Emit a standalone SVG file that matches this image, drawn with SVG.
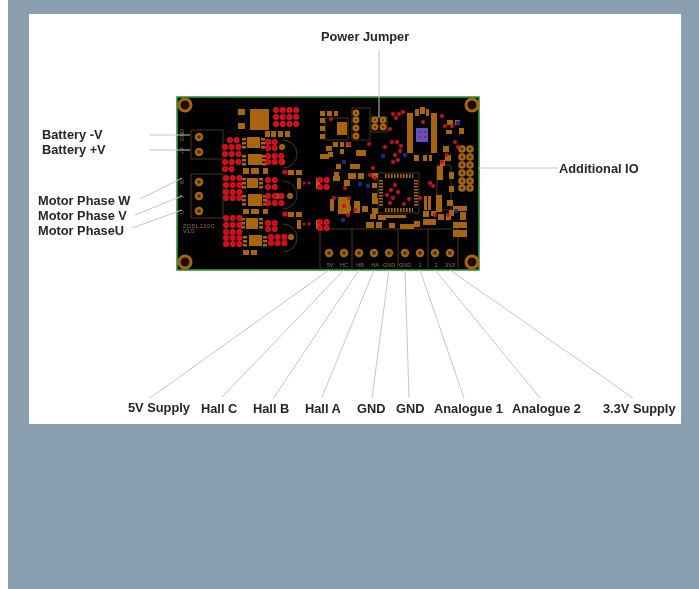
<svg xmlns="http://www.w3.org/2000/svg" width="699" height="589" viewBox="0 0 699 589">
<style>
.lb{font:bold 12.8px "Liberation Sans",Arial,sans-serif;fill:#262626}
.cn{stroke:#c6c6c6;stroke-width:1;fill:none}
.pad{fill:#a8650f}
.pin{fill:none;stroke:#a8650f;stroke-width:4;stroke-dasharray:2.4 1.6}
.sk{fill:none;stroke:#4f4618;stroke-width:.8}
.ring{fill:#3a2a08;stroke:#a8650f;stroke-width:2.4}
.vo{fill:none;stroke:#dc101c;stroke-width:6;stroke-linecap:round;stroke-dasharray:0 6.7}
.vi{fill:none;stroke:#8c0a12;stroke-width:1.6;stroke-linecap:round;stroke-dasharray:0 6.7}
.red{fill:#cc101c}
.blu{fill:#1a2a90}
.si{font:5.5px "Liberation Sans",Arial,sans-serif;fill:#94683a}
</style>
<defs>
<filter id="b" x="-2%" y="-2%" width="104%" height="104%"><feGaussianBlur stdDeviation="0.7"/></filter>
<filter id="t" x="-5%" y="-20%" width="110%" height="140%"><feGaussianBlur stdDeviation="0.42"/></filter>
<path id="via" d="M230 140h7M225 147h14M225 154h14M225 162h14M225 169h7M226 178h14M226 185h14M226 192h14M226 198h14M226 218h14M226 225h14M226 232h14M226 238h14M226 244h14M268 142h7M268 148h7M268 156h14M268 162h14M268 180h7M268 187h7M268 196h14M268 203h14M268 223h7M268 229h7M271 237h14M271 243h14M276 110h21M276 117h21M276 124h21M320 180h7M320 187h7M320 222h7M320 228h7"/>
</defs>
<rect width="699" height="589" fill="#fff"/>
<rect x="8" width="691" height="589" fill="#8a9fb0"/>
<rect x="29" y="14" width="652" height="410" fill="#fff"/>
<g id="board" filter="url(#b)">
<rect x="177" y="97" width="302" height="173" fill="#050505" stroke="#2e9a35" stroke-width="1.6"/>
<path class="sk" d="M191 130h32v29h-32zM191 174h32v44h-32zM320 229h138v39M320 229v39M352 229v39M398 229v39M428 229v39M325 118h23v22h-23zM352 108h18v32h-18zM371 117h16v15h-16zM378 173h41v40h-41zM437 165h14v45h-14zM283 140a14 14 0 0 1 0 28M283 181a14 14 0 0 1 0 28M283 224a14 14 0 0 1 0 28"/>
<path class="pad" d="M250 109h19v21h-19zM238 109h7v6h-7zM238 123h7v6h-7zM265 131h5v6h-5zM271 131h5v6h-5zM278 131h5v6h-5zM285 131h5v6h-5zM247 137h13v11h-13zM248 154h14v11h-14zM247 178h11v10h-11zM248 194h14v12h-14zM246 218h12v11h-12zM249 235h13v11h-13zM243 168h6v6h-6zM251 168h8v6h-8zM263 168h5v6h-5zM243 209h6v5h-6zM251 209h8v5h-8zM263 209h5v5h-5zM243 250h6v5h-6zM251 250h6v5h-6zM288 170h6v5h-6zM296 170h6v5h-6zM288 212h6v5h-6zM296 212h6v5h-6zM297 178h4v11h-4zM316 178h4v11h-4zM297 220h4v9h-4zM316 220h4v9h-4z"/>
<path class="pin" d="M244 138v12M263 138v12M244 155v12M264 155v12M244 178v12M261 178v12M244 195v12M265 195v12M243 218v12M261 218v12M245 236v12M265 236v12"/>
<path class="pad" d="M320 111h5v5h-5zM327 111h5v5h-5zM334 111h4v5h-4zM320 118h5v5h-5zM320 126h5v5h-5zM320 134h5v5h-5zM320 154h5v5h-5zM325 154h4v5h-4zM337 122h10v13h-10zM333 142h5v5h-5zM340 142h4v5h-4zM346 142h5v5h-5zM326 146h6v5h-6zM328 152h5v5h-5zM340 149h4v5h-4zM356 150h10v6h-10zM336 164h5v5h-5zM350 164h10v5h-10zM334 172h5v5h-5zM348 173h8v6h-8zM358 173h6v6h-6zM333 176h7v5h-7zM344 180h6v6h-6zM372 173h6v5h-6zM372 183h5v5h-5zM372 193h5v5h-5zM345 206h6v5h-6zM330 199h4v12h-4zM338 197h12v17h-12zM354 201h6v12h-6zM372 198h6v6h-6zM372 208h6v6h-6zM362 206h6v6h-6zM370 214h6v5h-6zM378 215h8v5h-8zM366 222h8v6h-8zM376 222h6v6h-6zM389 223h6v5h-6zM400 224h14v5h-14zM414 221h6v6h-6zM384 215h22v3h-22z"/>
<path class="pad" d="M407 113h6v40h-6zM431 113h6v40h-6zM415 109h4v7h-4zM420 107h5v7h-5zM426 109h3v7h-3zM414 155h5v6h-5zM423 155h4v6h-4zM429 155h3v6h-3zM447 120h6v5h-6zM455 120h5v5h-5zM446 130h6v4h-6zM459 128h5v6h-5zM443 146h6v6h-6zM445 155h6v6h-6zM440 160h5v6h-5zM437 166h6v14h-6zM449 172h5v7h-5zM449 186h5v6h-5zM447 200h6v6h-6zM436 195h6v17h-6zM449 210h5v6h-5zM424 196h3v14h-3zM428 196h3v14h-3zM423 211h6v6h-6zM431 211h5v5h-5zM438 214h6v6h-6zM446 214h5v6h-5zM453 206h14v5h-14zM460 212h6v8h-6zM453 222h14v6h-14zM453 230h14v7h-14zM423 219h8v6h-8zM431 219h5v6h-5z"/>
<path fill="none" stroke="#a8650f" stroke-width="4" stroke-dasharray="1.6 1.4" d="M385 176h28M385 210h28M381 180v27M416 180v27"/>
<g class="ring"><circle cx="185" cy="105" r="6" fill="#1a1003" stroke-width="3"/><circle cx="185" cy="262" r="6" fill="#1a1003" stroke-width="3"/><circle cx="472" cy="105" r="6" fill="#1a1003" stroke-width="3"/><circle cx="472" cy="262" r="6" fill="#1a1003" stroke-width="3"/>
<circle cx="199" cy="137" r="3"/><circle cx="199" cy="152" r="3"/><circle cx="199" cy="182" r="3"/><circle cx="199" cy="196" r="3"/><circle cx="199" cy="211" r="3"/>
<circle cx="329" cy="253" r="3"/><circle cx="344" cy="253" r="3"/><circle cx="359" cy="253" r="3"/><circle cx="374" cy="253" r="3"/><circle cx="389" cy="253" r="3"/><circle cx="405" cy="253" r="3"/><circle cx="420" cy="253" r="3"/><circle cx="435" cy="253" r="3"/><circle cx="450" cy="253" r="3"/>
<circle cx="462" cy="149" r="2.6"/><circle cx="470" cy="149" r="2.6"/><circle cx="462" cy="157" r="2.6"/><circle cx="470" cy="157" r="2.6"/><circle cx="462" cy="165" r="2.6"/><circle cx="470" cy="165" r="2.6"/><circle cx="462" cy="173" r="2.6"/><circle cx="470" cy="173" r="2.6"/><circle cx="462" cy="181" r="2.6"/><circle cx="470" cy="181" r="2.6"/><circle cx="462" cy="188" r="2.6"/><circle cx="470" cy="188" r="2.6"/>
<circle cx="356" cy="113" r="2.2"/><circle cx="356" cy="120" r="2.2"/><circle cx="356" cy="128" r="2.2"/><circle cx="356" cy="136" r="2.2"/><circle cx="375" cy="120" r="2.2"/><circle cx="383" cy="120" r="2.2"/><circle cx="375" cy="127" r="2.2"/><circle cx="383" cy="127" r="2.2"/>
<circle cx="282" cy="147" r="1.8"/><circle cx="282" cy="162" r="1.8"/><circle cx="290" cy="196" r="1.8"/><circle cx="277" cy="196" r="1.8"/><circle cx="291" cy="237" r="1.8"/></g>
<use href="#via" class="vo"/><use href="#via" class="vi"/>
<rect x="416" y="128" width="12" height="14" fill="#5a55c4"/>
<path d="M419 131h2v2h-2zM424 131h2v2h-2zM419 136h2v2h-2zM424 136h2v2h-2z" fill="#d01020"/>
<g class="red"><circle cx="285" cy="172" r="2.6"/><circle cx="285" cy="214" r="2.6"/><circle cx="304" cy="183" r="1.5"/><circle cx="309" cy="183" r="1.5"/><circle cx="304" cy="224" r="1.5"/><circle cx="309" cy="224" r="1.5"/><circle cx="331" cy="119" r="2"/><circle cx="369" cy="144" r="2"/><circle cx="349" cy="144" r="2"/><circle cx="385" cy="147" r="2"/><circle cx="392" cy="142" r="2"/><circle cx="397" cy="142" r="2"/><circle cx="401" cy="146" r="2"/><circle cx="395" cy="155" r="2"/><circle cx="398" cy="160" r="2"/><circle cx="393" cy="162" r="2"/><circle cx="400" cy="151" r="2"/><circle cx="403" cy="112" r="2"/><circle cx="396" cy="118" r="2"/><circle cx="399" cy="114" r="2"/><circle cx="393" cy="114" r="2"/><circle cx="390" cy="129" r="2"/><circle cx="423" cy="122" r="2"/><circle cx="442" cy="116" r="2"/><circle cx="445" cy="126" r="2"/><circle cx="452" cy="126" r="2"/><circle cx="455" cy="142" r="2"/><circle cx="458" cy="147" r="2"/><circle cx="447" cy="155" r="2"/><circle cx="442" cy="162" r="2"/><circle cx="395" cy="185" r="2"/><circle cx="391" cy="190" r="2"/><circle cx="398" cy="192" r="2"/><circle cx="393" cy="198" r="2"/><circle cx="387" cy="195" r="2"/><circle cx="390" cy="203" r="2"/><circle cx="404" cy="204" r="2"/><circle cx="409" cy="199" r="2"/><circle cx="420" cy="198" r="2"/><circle cx="430" cy="183" r="2"/><circle cx="433" cy="186" r="2"/><circle cx="349" cy="198" r="2"/><circle cx="334" cy="198" r="2"/><circle cx="344" cy="206" r="2"/><circle cx="355" cy="210" r="2"/><circle cx="345" cy="188" r="2"/><circle cx="348" cy="215" r="2"/><circle cx="435" cy="215" r="2"/><circle cx="448" cy="215" r="2"/><circle cx="373" cy="168" r="2"/><circle cx="375" cy="178" r="2"/><circle cx="370" cy="175" r="2"/></g>
<g class="blu"><circle cx="344" cy="162" r="2.2"/><circle cx="383" cy="156" r="2.2"/><circle cx="405" cy="155" r="2.2"/><circle cx="360" cy="184" r="2.2"/><circle cx="368" cy="186" r="2.2"/><circle cx="458" cy="123" r="2.2"/><circle cx="456" cy="211" r="2.2"/><circle cx="343" cy="220" r="2.2"/></g>
<text class="si" transform="rotate(-90 184 135)" x="184" y="135" text-anchor="middle">GND</text>
<text class="si" transform="rotate(-90 184 151)" x="184" y="151" text-anchor="middle">+V</text>
<text class="si" transform="rotate(-90 184 182)" x="184" y="182" text-anchor="middle">W</text>
<text class="si" transform="rotate(-90 184 197)" x="184" y="197" text-anchor="middle">V</text>
<text class="si" transform="rotate(-90 184 212)" x="184" y="212" text-anchor="middle">U</text>
<text class="si" x="183" y="228" letter-spacing=".6">ZDDL220C</text>
<text class="si" x="183" y="233">V1.0</text>
<g class="si" text-anchor="middle"><text x="330" y="267">5V</text><text x="344" y="267">HC</text><text x="360" y="267">HB</text><text x="375" y="267">HA</text><text x="389" y="267">GND</text><text x="405" y="267">GND</text><text x="420" y="267">1</text><text x="436" y="267">2</text><text x="450" y="267">3V3</text></g>
</g>
<g id="connectors" class="cn" filter="url(#t)">
<path d="M379 50V118M150 135H190M150 150H190M140 199L182 178M135 215L182 196M132 228L182 210M478 168H558M150 398L329 270M222 397L344 270M273 399L359 270M322 397L374 270M372 398L389 270M409 398L405 270M464 398L420 270M540 398L435 270M633 398L450 270"/>
</g>
<g filter="url(#t)">
<g id="n-jumper"><text class="lb" x="321" y="41">Power Jumper</text></g>
<g id="n-batn"><text class="lb" x="42" y="139">Battery -V</text></g>
<g id="n-batp"><text class="lb" x="42" y="154">Battery +V</text></g>
<g id="n-w"><text class="lb" x="38" y="205">Motor Phase W</text></g>
<g id="n-v"><text class="lb" x="38" y="220">Motor Phase V</text></g>
<g id="n-u"><text class="lb" x="38" y="235">Motor PhaseU</text></g>
<g id="n-io"><text class="lb" x="559" y="173">Additional IO</text></g>
<g id="n-5v"><text class="lb" x="128" y="412">5V Supply</text></g>
<g id="n-hc"><text class="lb" x="201" y="413">Hall C</text></g>
<g id="n-hb"><text class="lb" x="253" y="413">Hall B</text></g>
<g id="n-ha"><text class="lb" x="305" y="413">Hall A</text></g>
<g id="n-g1"><text class="lb" x="357" y="413">GND</text></g>
<g id="n-g2"><text class="lb" x="396" y="413">GND</text></g>
<g id="n-a1"><text class="lb" x="434" y="413">Analogue 1</text></g>
<g id="n-a2"><text class="lb" x="512" y="413">Analogue 2</text></g>
<g id="n-33"><text class="lb" x="603" y="413">3.3V Supply</text></g>
</g>
</svg>
